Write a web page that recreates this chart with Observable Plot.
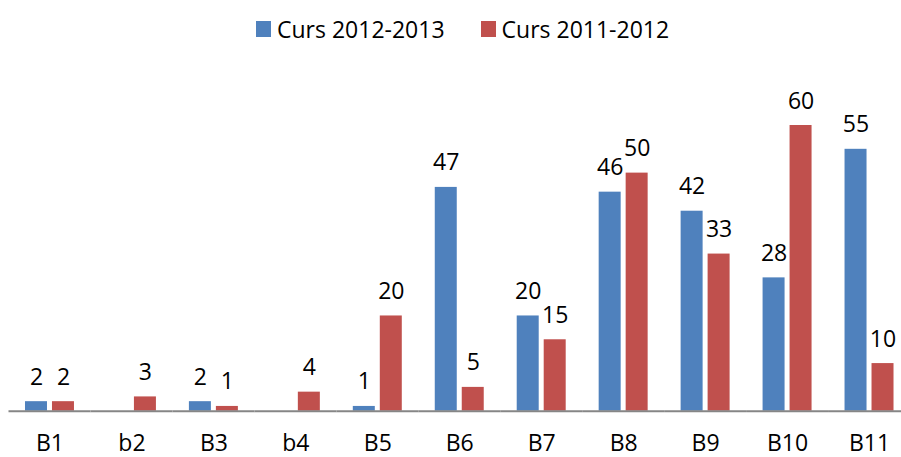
<!DOCTYPE html>
<html>
<head>
<meta charset="utf-8">
<script src="https://cdn.jsdelivr.net/npm/d3@7"></script>
<script src="https://cdn.jsdelivr.net/npm/@observablehq/plot@0.6"></script>
<style>
  html, body { margin: 0; padding: 0; background: #fff; }
  #legend { height: 50px; box-sizing: border-box; padding-top: 8px; padding-left: 256px;
    font-family: "Open Sans", sans-serif; font-size: 23px; line-height: 32px; color: #000; display: flex; }
  .item { display: flex; align-items: center; }
  .sw { width: 15px; height: 16px; margin-right: 6px; }
  #chart svg { display: block; }
</style>
</head>
<body>
<div id="legend"></div>
<div id="chart"></div>
<script>
const categories = ["B1", "b2", "B3", "b4", "B5", "B6", "B7", "B8", "B9", "B10", "B11"];
const seriesNames = ["Curs 2012-2013", "Curs 2011-2012"];
const seriesColors = ["#4F81BD", "#C0504D"];
const curs2012_2013 = [2, null, 2, null, 1, 47, 20, 46, 42, 28, 55];
const curs2011_2012 = [2, 3, 1, 4, 20, 5, 15, 50, 33, 60, 10];

const seriesValues = [curs2012_2013, curs2011_2012];
const data = [];
categories.forEach((c, i) => {
  seriesNames.forEach((s, j) => {
    const v = seriesValues[j][i];
    if (v != null) data.push({cat: c, series: s, value: v});
  });
});

const legend = document.getElementById("legend");
seriesNames.forEach((s, j) => {
  const it = document.createElement("div");
  it.className = "item";
  if (j > 0) it.style.marginLeft = "36px";
  const sw = document.createElement("span");
  sw.className = "sw";
  sw.style.background = seriesColors[j];
  const t = document.createElement("span");
  t.textContent = s;
  it.appendChild(sw); it.appendChild(t);
  legend.appendChild(it);
});

const chart = Plot.plot({
  width: 901,
  height: 407,
  marginTop: 75,
  marginBottom: 46.3,
  marginLeft: 8.5,
  marginRight: -9,
  style: {fontFamily: "'Open Sans', sans-serif", fontSize: "23px", color: "#000", background: "#fff"},
  fx: {domain: categories, paddingInner: 0, paddingOuter: 0, round: false, label: null},
  x: {domain: seriesNames, paddingInner: 0.185, paddingOuter: 0.611, round: false, axis: null},
  y: {domain: [0, 60], axis: null},
  color: {domain: seriesNames, range: seriesColors},
  marks: [
    Plot.barY(data, {fx: "cat", x: "series", y: "value", fill: "series"}),
    Plot.ruleY([0], {stroke: "#868686", strokeWidth: 2}),
    Plot.text(data, {fx: "cat", x: "series", y: "value", text: d => String(d.value),
      lineAnchor: "bottom", dy: -17, fontSize: 23, fill: "#000"}),
    Plot.axisFx({anchor: "bottom", tickSize: 0, tickPadding: 23, fontSize: 23, label: null, fill: "#000"})
  ]
});
document.getElementById("chart").appendChild(chart);
</script>
</body>
</html>
